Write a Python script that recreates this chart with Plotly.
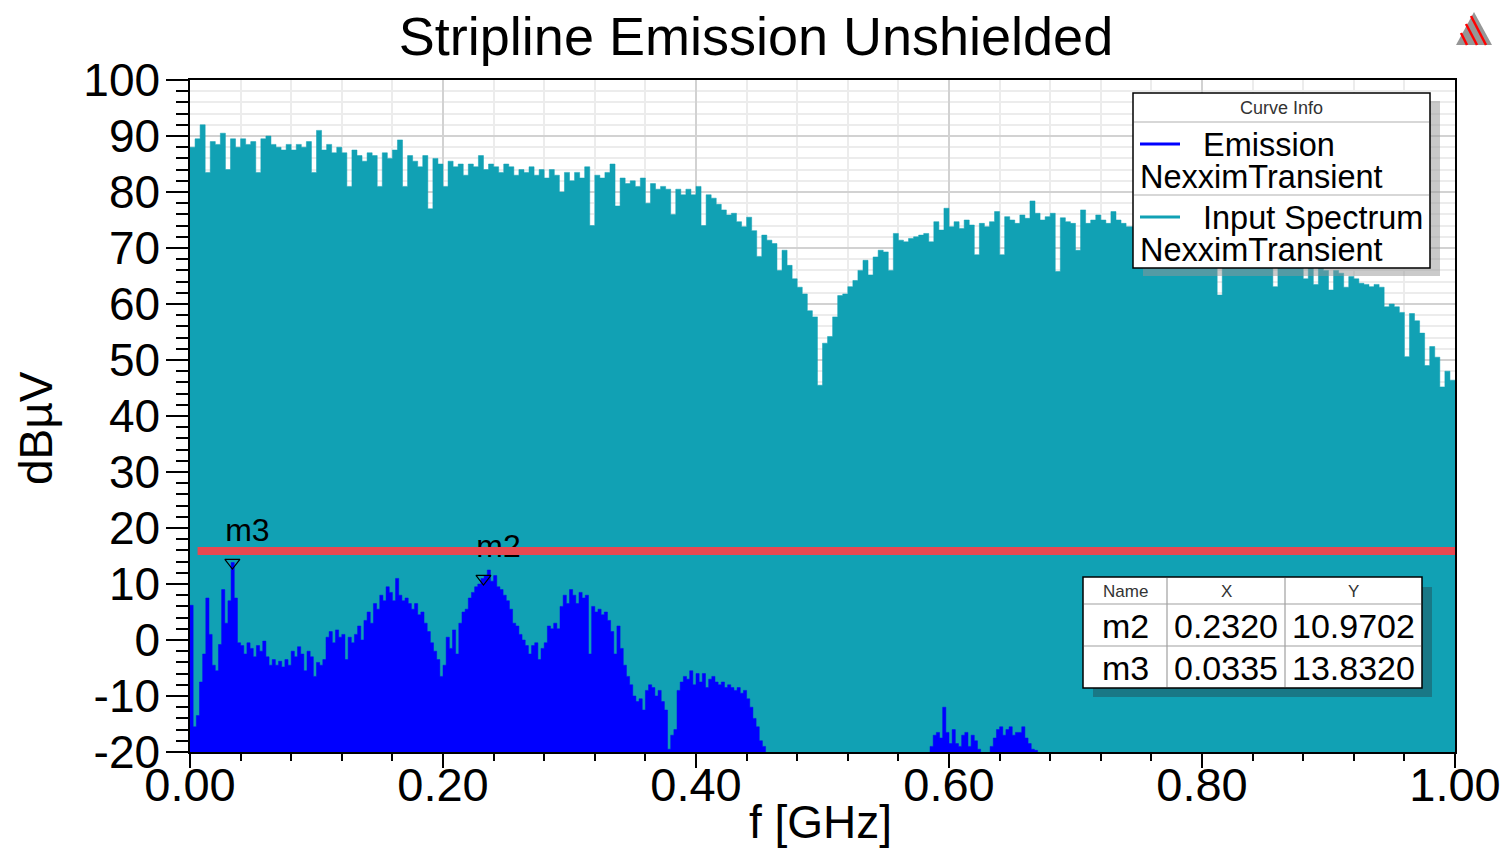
import plotly.graph_objects as go

# ---------------- data ----------------
Y_MIN, Y_MAX = -20, 100

# Input Spectrum (NexximTransient), dBuV, bins of 0.004 GHz starting at 0 GHz
INPUT_STEP = 0.004
input_spectrum_db = [
    88.0, 89.5, 92.0, 83.5, 89.0, 88.5, 90.5, 84.0, 89.5, 88.0,
    89.5, 88.5, 89.0, 83.5, 89.5, 90.0, 88.5, 88.0, 87.5, 88.5,
    87.5, 88.5, 88.0, 89.0, 83.5, 91.0, 87.5, 88.5, 87.0, 88.0,
    87.0, 81.0, 87.5, 86.5, 85.5, 87.0, 86.5, 81.0, 87.0, 86.0,
    87.5, 89.3, 81.0, 86.5, 85.5, 84.5, 86.5, 77.0, 86.0, 85.0,
    81.0, 85.5, 84.5, 85.0, 83.0, 85.0, 84.5, 86.5, 84.0, 85.0,
    84.5, 83.5, 85.0, 84.5, 83.0, 84.0, 83.5, 84.5, 83.0, 84.0,
    82.5, 84.0, 83.0, 80.0, 83.5, 82.0, 83.5, 82.5, 84.5, 74.0,
    83.0, 82.5, 83.5, 85.0, 77.5, 82.5, 81.5, 82.0, 81.0, 82.5,
    78.0, 81.5, 80.5, 81.0, 80.5, 76.0, 80.5, 79.5, 80.5, 79.5,
    81.0, 74.0, 79.5, 78.9, 77.8, 76.8, 75.9, 76.2, 74.7, 73.8,
    75.5, 73.1, 68.5, 72.3, 71.4, 70.8, 66.0, 69.6, 66.9, 64.5,
    63.0, 61.8, 58.8, 57.7, 45.5, 53.0, 54.2, 57.7, 61.5, 61.8,
    63.1, 64.2, 66.0, 67.8, 65.2, 68.4, 69.6, 69.3, 66.0, 72.6,
    71.4, 71.1, 71.7, 72.0, 72.3, 72.6, 71.1, 74.7, 73.2, 77.1,
    73.8, 74.7, 73.5, 75.0, 74.1, 68.8, 74.4, 73.8, 74.7, 76.5,
    68.8, 75.6, 75.0, 74.4, 75.9, 75.3, 78.4, 76.2, 75.0, 75.6,
    76.2, 65.8, 75.4, 74.7, 74.4, 69.6, 76.8, 74.4, 75.0, 75.9,
    75.0, 74.4, 76.5, 75.0, 74.4, 73.8, 73.8, 74.5, 73.5, 74.0,
    73.0, 74.2, 72.8, 73.5, 72.5, 73.0, 71.5, 72.5, 72.0, 71.0,
    72.0, 71.0, 71.5, 61.6, 70.5, 71.0, 70.0, 70.5, 69.5, 70.0,
    69.0, 69.5, 68.5, 69.0, 63.1, 68.0, 68.5, 67.5, 68.0, 67.0,
    64.5, 67.0, 63.5, 66.5, 66.0, 62.5, 66.0, 65.5, 63.0, 64.9,
    64.5, 63.7, 63.5, 63.1, 63.5, 63.0, 59.5, 60.0, 59.5, 58.5,
    50.6, 58.3, 57.0, 54.8, 49.0, 52.4, 50.5, 45.2, 48.0, 46.4,
    46.4,
]

# Emission (NexximTransient), dBuV, bins of 0.0025 GHz
EMISSION_STEP = 0.0025
emission_start_ghz = [0.0, 0.585, 0.6325]
emission_low_db = [
    6.2, -15.5, -13.5, -7.5, -2.5, 7.5, 1.0, -4.5, -5.5, -0.8,
    9.0, 3.0, 7.0, 13.832, 7.5, -0.5, -1.0, -2.5, -0.5, -1.5,
    -3.0, -1.0, -2.0, -0.2, -3.0, -4.5, -3.5, -4.5, -3.8, -4.8,
    -3.5, -4.5, -2.0, -3.0, -1.2, -2.5, -5.5, -2.0, -3.0, -6.5,
    -4.0, -4.5, -3.5, 0.5, 1.5, -0.5, 1.8, 0.5, 1.0, -3.5,
    0.5, -0.5, 1.0, 2.5, 0.0, 3.5, 5.0, 3.0, 6.5, 5.5,
    8.0, 7.0, 9.5, 8.5, 7.0, 11.0, 8.0, 7.0, 7.5, 6.5,
    5.5, 6.5, 4.5, 5.0, 3.0, 1.5, -0.5, -2.0, -3.5, -6.5,
    -4.5, 0.5, -1.5, 1.8, -2.5, 3.0, 5.0, 5.5, 7.5, 8.5,
    9.5, 10.0, 10.97, 11.5, 12.5, 10.5, 11.5, 9.5, 9.0, 8.0,
    7.0, 5.5, 3.0, 2.5, 1.0, 0.0, -1.0, -2.5, -1.0, -0.5,
    -3.5, -1.5, -0.5, 2.5, 2.0, 3.0, 2.0, 6.0, 8.0, 6.5,
    9.0, 8.0, 6.5, 8.5, 7.5, 8.0, -2.5, 6.0, 5.0, 5.5,
    4.5, 5.0, 3.5, 1.5, -2.5, 2.5, -1.5, -4.5, -6.5, -8.0,
    -10.0, -11.0, -10.5, -12.5, -9.0, -8.0, -8.5, -10.0, -9.0, -11.0,
    -12.5, -19.5, -17.0, -16.0, -9.0, -7.5, -6.5, -7.0, -5.5, -8.0,
    -6.0, -7.5, -6.0, -8.5, -7.0, -6.5, -7.5, -8.0, -7.5, -8.5,
    -8.0, -8.5, -9.0, -8.5, -9.5, -9.0, -10.5, -12.0, -14.0, -15.5,
    -18.0, -19.0,
]
emission_mid_db = [
    -19.0, -17.0, -16.5, -17.5, -12.0, -16.5, -18.5, -16.0, -18.5, -19.0,
    -17.0, -16.5, -19.0, -17.0, -18.0, -19.5,
]
emission_high_db = [
    -19.0, -17.5, -16.0, -15.5, -17.0, -16.0, -15.5, -17.0, -16.5, -16.5,
    -15.5, -17.5, -18.5, -19.5, -19.7,
]

# Limit line
limit_ghz = [0.006, 1.0]
limit_db = [15.9, 15.9]

# Markers
marker_names = ["m2", "m3"]
marker_ghz = [0.2320, 0.0335]
marker_db = [10.9702, 13.8320]

x_tick_vals = [0.0, 0.2, 0.4, 0.6, 0.8, 1.0]
y_tick_vals = list(range(-20, 101, 10))

# ---------------- styling ----------------
FONT = "Liberation Sans, Arial, sans-serif"
TEAL = "rgb(17,161,180)"
BLUE = "rgb(0,0,255)"
RED = "rgb(232,72,80)"

PLOT_L, PLOT_R, PLOT_T, PLOT_B = 190, 1455, 80, 752
GHZ_PER_PX = 1.0 / (PLOT_R - PLOT_L)
DB_PER_PX = (Y_MAX - Y_MIN) / (PLOT_B - PLOT_T)


def px(x):
    return (x - PLOT_L) / (PLOT_R - PLOT_L)


def py(y):
    return (PLOT_B - y) / (PLOT_B - PLOT_T)


def stepped_area(start, step, values, floor):
    """Outline of a bin-per-sample spectrum filled down to the axis floor."""
    xs, ys = [start], [floor]
    for i, v in enumerate(values):
        x0 = start + i * step
        xs += [x0, x0 + step]
        ys += [v, v]
    xs.append(start + len(values) * step)
    ys.append(floor)
    return xs, ys


fig = go.Figure()

ix, iy = stepped_area(0.0, INPUT_STEP, input_spectrum_db, Y_MIN)
fig.add_trace(go.Scatter(x=ix, y=iy, mode="lines", fill="toself", fillcolor=TEAL,
                         line=dict(color=TEAL, width=0.5), name="Input Spectrum",
                         hoverinfo="skip"))

for start, vals in zip(emission_start_ghz, [emission_low_db, emission_mid_db, emission_high_db]):
    ex, ey = stepped_area(start, EMISSION_STEP, vals, Y_MIN)
    fig.add_trace(go.Scatter(x=ex, y=ey, mode="lines", fill="toself", fillcolor=BLUE,
                             line=dict(color=BLUE, width=0.5), name="Emission",
                             hoverinfo="skip"))

# marker triangles
fig.add_trace(go.Scatter(
    x=marker_ghz, y=marker_db, mode="markers",
    marker=dict(symbol="triangle-down-open", size=13, color="black",
                line=dict(width=1.2, color="black")),
    hoverinfo="skip"))
# marker names, placed 15 px right and 30 px above each marker
fig.add_trace(go.Scatter(
    x=[g + 15 * GHZ_PER_PX for g in marker_ghz],
    y=[d + 30 * DB_PER_PX for d in marker_db],
    mode="text", text=marker_names, textposition="middle center",
    textfont=dict(family=FONT, size=32, color="black"),
    hoverinfo="skip"))

fig.add_trace(go.Scatter(x=limit_ghz, y=limit_db, mode="lines",
                         line=dict(color=RED, width=8), hoverinfo="skip"))

shapes = []
annotations = []

# Curve Info box
shapes.append(dict(type="rect", xref="paper", yref="paper", x0=px(1143), x1=px(1440),
                   y0=py(276), y1=py(101), fillcolor="rgba(150,150,150,0.5)",
                   line=dict(width=0), layer="above"))
shapes.append(dict(type="rect", xref="paper", yref="paper", x0=px(1133), x1=px(1430),
                   y0=py(268), y1=py(93), fillcolor="white",
                   line=dict(color="black", width=1.5), layer="above"))
for yy in (122, 195):
    shapes.append(dict(type="line", xref="paper", yref="paper", x0=px(1134), x1=px(1429),
                       y0=py(yy), y1=py(yy), line=dict(color="#b0b0b0", width=1.2),
                       layer="above"))
for yy, col in ((144, BLUE), (217, TEAL)):
    shapes.append(dict(type="line", xref="paper", yref="paper", x0=px(1140), x1=px(1180),
                       y0=py(yy), y1=py(yy), line=dict(color=col, width=3), layer="above"))

annotations.append(dict(text="Curve Info", xref="paper", yref="paper", x=px(1281), y=py(108),
                        xanchor="center", yanchor="middle", showarrow=False,
                        font=dict(family=FONT, size=18, color="#333333")))
for txt, xx, yy in (("Emission", 1201, 145), ("NexximTransient", 1138, 177),
                    ("Input Spectrum", 1201, 218), ("NexximTransient", 1138, 250)):
    annotations.append(dict(text=txt, xref="paper", yref="paper", x=px(xx), y=py(yy),
                            xanchor="left", yanchor="middle", showarrow=False,
                            font=dict(family=FONT, size=32.5, color="black")))

# Marker table
shapes.append(dict(type="rect", xref="paper", yref="paper", x0=px(1093), x1=px(1432),
                   y0=py(697), y1=py(587), fillcolor="rgb(25,120,134)",
                   line=dict(width=0), layer="above"))
shapes.append(dict(type="rect", xref="paper", yref="paper", x0=px(1083), x1=px(1422),
                   y0=py(688), y1=py(577), fillcolor="white",
                   line=dict(color="black", width=1.5), layer="above"))
for xx in (1167, 1285):
    shapes.append(dict(type="line", xref="paper", yref="paper", x0=px(xx), x1=px(xx),
                       y0=py(687), y1=py(578), line=dict(color="#a0a0a0", width=1.2),
                       layer="above"))
for yy in (604, 646):
    shapes.append(dict(type="line", xref="paper", yref="paper", x0=px(1084), x1=px(1421),
                       y0=py(yy), y1=py(yy), line=dict(color="#a0a0a0", width=1.2),
                       layer="above"))

col_centers = [1125, 1226, 1353]
for cx, head in zip(col_centers, ["Name", "X", "Y"]):
    annotations.append(dict(text=head, xref="paper", yref="paper", x=px(cx), y=py(591),
                            xanchor="center", yanchor="middle", showarrow=False,
                            font=dict(family=FONT, size=17, color="#333333")))
for row, (nm, mx, my) in enumerate(zip(marker_names, marker_ghz, marker_db)):
    ry = 626 + row * 42
    for cx, txt in zip(col_centers, [nm, f"{mx:.4f}", f"{my:.4f}"]):
        annotations.append(dict(text=txt, xref="paper", yref="paper", x=px(cx), y=py(ry),
                                xanchor="center", yanchor="middle", showarrow=False,
                                font=dict(family=FONT, size=34, color="black")))

# Axis titles
annotations.append(dict(text="f [GHz]", xref="paper", yref="paper", x=px(820), y=py(822),
                        xanchor="center", yanchor="middle", showarrow=False,
                        font=dict(family=FONT, size=46, color="black")))
annotations.append(dict(text="dBµV", xref="paper", yref="paper", x=px(36), y=py(428),
                        xanchor="center", yanchor="middle", showarrow=False, textangle=-90,
                        font=dict(family=FONT, size=46, color="black")))

# Small logo, top right
shapes.append(dict(type="path", xref="paper", yref="paper",
                   path=f"M {px(1456)} {py(45)} L {px(1474)} {py(12)} L {px(1492)} {py(45)} Z",
                   fillcolor="rgb(150,150,150)", line=dict(width=0), layer="above"))
for (x0, y0, x1, y1) in ((1461, 33, 1467, 45), (1466, 24, 1477, 45), (1471, 16, 1486, 45)):
    shapes.append(dict(type="line", xref="paper", yref="paper", x0=px(x0), y0=py(y0),
                       x1=px(x1), y1=py(y1), line=dict(color="red", width=2.5),
                       layer="above"))

fig.update_layout(
    width=1501, height=849,
    margin=dict(l=PLOT_L, r=1501 - PLOT_R, t=PLOT_T, b=849 - PLOT_B),
    paper_bgcolor="white", plot_bgcolor="white",
    showlegend=False,
    font=dict(family=FONT, color="black"),
    title=dict(text="Stripline Emission Unshielded", x=756 / 1501, xanchor="center",
               xref="container", yref="container", y=1 - 36 / 849, yanchor="middle",
               font=dict(family=FONT, size=54, color="black")),
    shapes=shapes, annotations=annotations,
)

fig.update_xaxes(
    range=[0, 1], tickvals=x_tick_vals, ticktext=[f"{v:.2f}" for v in x_tick_vals],
    ticks="outside", ticklen=14, tickwidth=1.5, tickcolor="black",
    tickfont=dict(family=FONT, size=47, color="black"), ticklabelstandoff=-23,
    showline=True, linecolor="black", linewidth=1.5, mirror=True,
    showgrid=True, gridcolor="#d2d2d2", gridwidth=1.5,
    minor=dict(dtick=0.04, ticks="outside", ticklen=7, tickwidth=1.5, tickcolor="black",
               showgrid=True, gridcolor="#ececec", gridwidth=1.5),
    zeroline=False, automargin=False,
)
fig.update_yaxes(
    range=[Y_MIN, Y_MAX], tickvals=y_tick_vals, ticktext=[str(v) for v in y_tick_vals],
    ticks="outside", ticklen=22, tickwidth=1.5, tickcolor="black",
    tickfont=dict(family=FONT, size=46, color="black"), ticklabelstandoff=-3,
    showline=True, linecolor="black", linewidth=1.5, mirror=True,
    showgrid=True, gridcolor="#d2d2d2", gridwidth=1.5,
    minor=dict(dtick=2, ticks="outside", ticklen=12, tickwidth=1.5, tickcolor="black",
               showgrid=True, gridcolor="#ececec", gridwidth=1.5),
    zeroline=False, automargin=False,
)

fig.write_html("out.html")
